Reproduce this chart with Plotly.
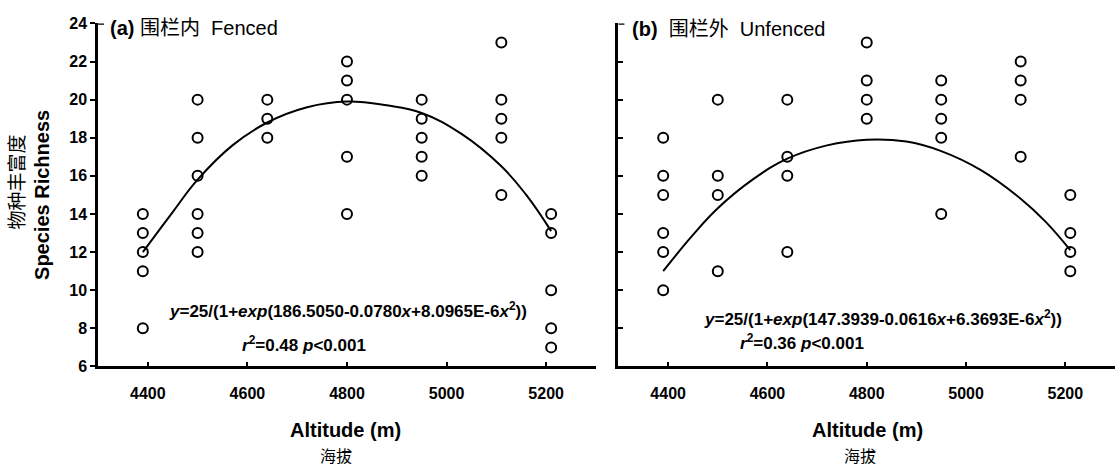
import plotly.graph_objects as go

# Sampling altitudes (m) and species richness counted in each plot
altitudes = [4390, 4500, 4640, 4800, 4950, 5110, 5210]
fenced_richness = [
    [14, 13, 12, 11, 8],
    [20, 18, 16, 14, 13, 12],
    [20, 19, 18],
    [22, 21, 20, 17, 14],
    [20, 19, 18, 17, 16],
    [23, 20, 19, 18, 15],
    [14, 13, 10, 8, 7],
]
unfenced_richness = [
    [18, 16, 15, 13, 12, 10],
    [20, 16, 15, 11],
    [20, 17, 16, 12],
    [23, 21, 20, 19],
    [21, 20, 19, 18, 14],
    [22, 21, 20, 17],
    [15, 13, 12, 11],
]

# Fitted logistic-quadratic curves, sampled along the altitude gradient
fit_altitudes = [4390, 4450, 4500, 4570, 4640, 4720, 4800, 4880, 4950, 5030, 5110, 5160, 5210]
fenced_fit = [12.0, 14.1, 15.8, 17.6, 18.8, 19.6, 19.9, 19.7, 19.3, 18.2, 16.5, 15.0, 13.1]
unfenced_fit = [11.0, 12.9, 14.3, 15.8, 16.9, 17.6, 17.9, 17.8, 17.3, 16.3, 14.8, 13.6, 12.1]

x_ticks = [4400, 4600, 4800, 5000, 5200]
y_ticks = [6, 8, 10, 12, 14, 16, 18, 20, 22, 24]

FONT = "Liberation Sans, Arial, Noto Sans CJK SC"
CJK = "Noto Sans CJK SC, Liberation Sans"


def flatten(groups):
    xs, ys = [], []
    for alt, vals in zip(altitudes, groups):
        for v in vals:
            xs.append(alt)
            ys.append(v)
    return xs, ys


fig = go.Figure()

for richness, fit, xa, ya in [
    (fenced_richness, fenced_fit, "x", "y"),
    (unfenced_richness, unfenced_fit, "x2", "y2"),
]:
    fig.add_trace(go.Scatter(
        x=fit_altitudes, y=fit, mode="lines", xaxis=xa, yaxis=ya,
        line=dict(color="black", width=2, shape="spline", smoothing=1.2),
        showlegend=False, hoverinfo="skip",
    ))
    px, py = flatten(richness)
    fig.add_trace(go.Scatter(
        x=px, y=py, mode="markers", xaxis=xa, yaxis=ya,
        marker=dict(symbol="circle-open", size=10, color="black",
                    line=dict(width=2, color="black")),
        showlegend=False,
    ))

axis_common = dict(
    range=[4300, 5300], tickvals=x_ticks, ticks="inside", ticklen=5,
    tickwidth=2, tickcolor="black", showline=True, linewidth=2.5,
    linecolor="black", showgrid=False, zeroline=False, ticklabelstandoff=11,
    tickfont=dict(family=FONT, size=16, color="black", weight="bold"),
)
y_common = dict(
    range=[6, 24], tickvals=y_ticks, ticklen=5, tickwidth=2,
    tickcolor="black", showline=True, linewidth=2.5, linecolor="black",
    showgrid=False, zeroline=False,
    tickfont=dict(family=FONT, size=16, color="black", weight="bold"),
)

ydom = [0.2017, 0.9657]
fig.update_layout(
    width=1115, height=466, autosize=False,
    margin=dict(l=0, r=0, t=0, b=0),
    paper_bgcolor="white", plot_bgcolor="white",
    xaxis=dict(domain=[0.0879, 0.5345], anchor="y", **axis_common),
    yaxis=dict(domain=ydom, anchor="x", ticks="outside", **y_common),
    xaxis2=dict(domain=[0.5547, 1.0], anchor="y2", **axis_common),
    yaxis2=dict(domain=ydom, anchor="x2", ticks="inside", showticklabels=False, **y_common),
)

# Small cap at the top of each vertical axis
for xr, yr in [("x domain", "y"), ("x2 domain", "y2")]:
    fig.add_shape(type="line", xref=xr, yref=yr, x0=0, x1=0.012, y0=24, y1=24,
                  line=dict(color="black", width=2.5))

ann = []
# Panel titles
ann.append(dict(xref="x", yref="y", x=4320, y=23.75, xanchor="left", yanchor="middle",
                text="<b>(a)</b> 围栏内  Fenced", showarrow=False,
                font=dict(family=FONT, size=20, color="black")))
ann.append(dict(xref="x2", yref="y2", x=4323, y=23.7, xanchor="left", yanchor="middle",
                text="<b>(b)</b>  围栏外  Unfenced", showarrow=False,
                font=dict(family=FONT, size=20, color="black")))

# Regression equations
eq_font = dict(family=FONT, size=17, color="black")
ann.append(dict(xref="x", yref="y", x=4802, y=8.98, showarrow=False, font=eq_font,
                xanchor="center", yanchor="middle",
                text="<b><i>y</i>=25/(1+<i>exp</i>(186.5050-0.0780<i>x</i>+8.0965E-6<i>x</i><sup>2</sup>))</b>"))
ann.append(dict(xref="x", yref="y", x=4713, y=7.17, showarrow=False, font=eq_font,
                xanchor="center", yanchor="middle",
                text="<b><i>r</i><sup>2</sup>=0.48 <i>p</i>&lt;0.001</b>"))
ann.append(dict(xref="x2", yref="y2", x=4833, y=8.52, showarrow=False, font=eq_font,
                xanchor="center", yanchor="middle",
                text="<b><i>y</i>=25/(1+<i>exp</i>(147.3939-0.0616<i>x</i>+6.3693E-6<i>x</i><sup>2</sup>))</b>"))
ann.append(dict(xref="x2", yref="y2", x=4670, y=7.28, showarrow=False, font=eq_font,
                xanchor="center", yanchor="middle",
                text="<b><i>r</i><sup>2</sup>=0.36 <i>p</i>&lt;0.001</b>"))

# Axis titles
ann.append(dict(xref="paper", yref="paper", x=0.0377, y=0.5837, textangle=-90,
                xanchor="center", yanchor="middle",
                showarrow=False, text="<b>Species Richness</b>",
                font=dict(family=FONT, size=20, color="black")))
ann.append(dict(xref="paper", yref="paper", x=0.0135, y=0.6116, textangle=-90,
                xanchor="center", yanchor="middle",
                showarrow=False, text="物种丰富度",
                font=dict(family=CJK, size=19, color="black")))
for cx, cy, hx, hy in [(0.3103, 0.0595, 0.3009, 0.0055), (0.7776, 0.0595, 0.7713, 0.0035)]:
    ann.append(dict(xref="paper", yref="paper", x=cx, y=cy, showarrow=False,
                    xanchor="center", yanchor="middle",
                    text="<b>Altitude (m)</b>", font=dict(family=FONT, size=20, color="black")))
    ann.append(dict(xref="paper", yref="paper", x=hx, y=hy, showarrow=False,
                    xanchor="center", yanchor="middle",
                    text="海拔", font=dict(family=CJK, size=16, color="black")))

fig.update_layout(annotations=ann)
fig.write_html("out.html")
